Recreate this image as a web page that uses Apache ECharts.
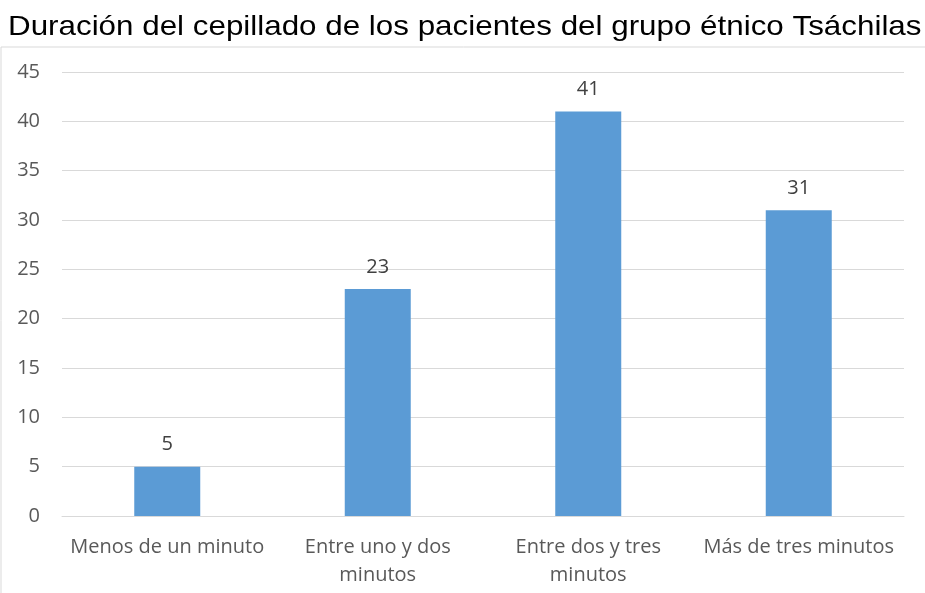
<!DOCTYPE html>
<html><head><meta charset="utf-8">
<script src="https://cdn.jsdelivr.net/npm/echarts@6/dist/echarts.min.js"></script>
<style>html,body{margin:0;padding:0;background:#fff}#c{width:925px;height:593px}</style>
</head><body><div id="c"></div>
<script>
const titleText = 'Duración del cepillado de los pacientes del grupo étnico Tsáchilas';
const categories = ["Menos de un minuto", "Entre uno y dos minutos", "Entre dos y tres minutos", "Más de tres minutos"];
const values = [5, 23, 41, 31];
const chart = echarts.init(document.getElementById('c'));
chart.setOption({
  animation: false,
  graphic: [
    {type: 'rect', shape: {x: 1, y: 47, width: 930, height: 560}, style: {fill: 'none', stroke: '#d9d9d9', lineWidth: 1}, silent: true},
    {type: 'text', x: 8, y: 27, scaleX: 1.12, style: {text: titleText, font: '28px "Liberation Sans"', fill: '#000', textVerticalAlign: 'middle', textAlign: 'left'}}
  ],
  grid: {left: 62, right: 21, top: 72, bottom: 77},
  xAxis: {
    type: 'category', data: categories,
    axisLine: {lineStyle: {color: '#d9d9d9'}},
    axisTick: {show: false},
    axisLabel: {
      color: '#595959', fontFamily: 'Open Sans', fontSize: 20, margin: 17, lineHeight: 28, interval: 0,
      formatter: v => ({"Entre uno y dos minutos": "Entre uno y dos\nminutos", "Entre dos y tres minutos": "Entre dos y tres\nminutos"}[v] || v)
    }
  },
  yAxis: {
    type: 'value', min: 0, max: 45, interval: 5,
    axisLine: {show: false}, axisTick: {show: false},
    splitLine: {lineStyle: {color: '#d9d9d9'}},
    axisLabel: {color: '#595959', fontFamily: 'Open Sans', fontSize: 20, margin: 22}
  },
  series: [{
    type: 'bar', data: values, barWidth: 66,
    itemStyle: {color: '#5b9bd5'},
    label: {show: true, position: 'top', distance: 12, color: '#404040', fontFamily: 'Open Sans', fontSize: 20}
  }]
});
</script></body></html>
